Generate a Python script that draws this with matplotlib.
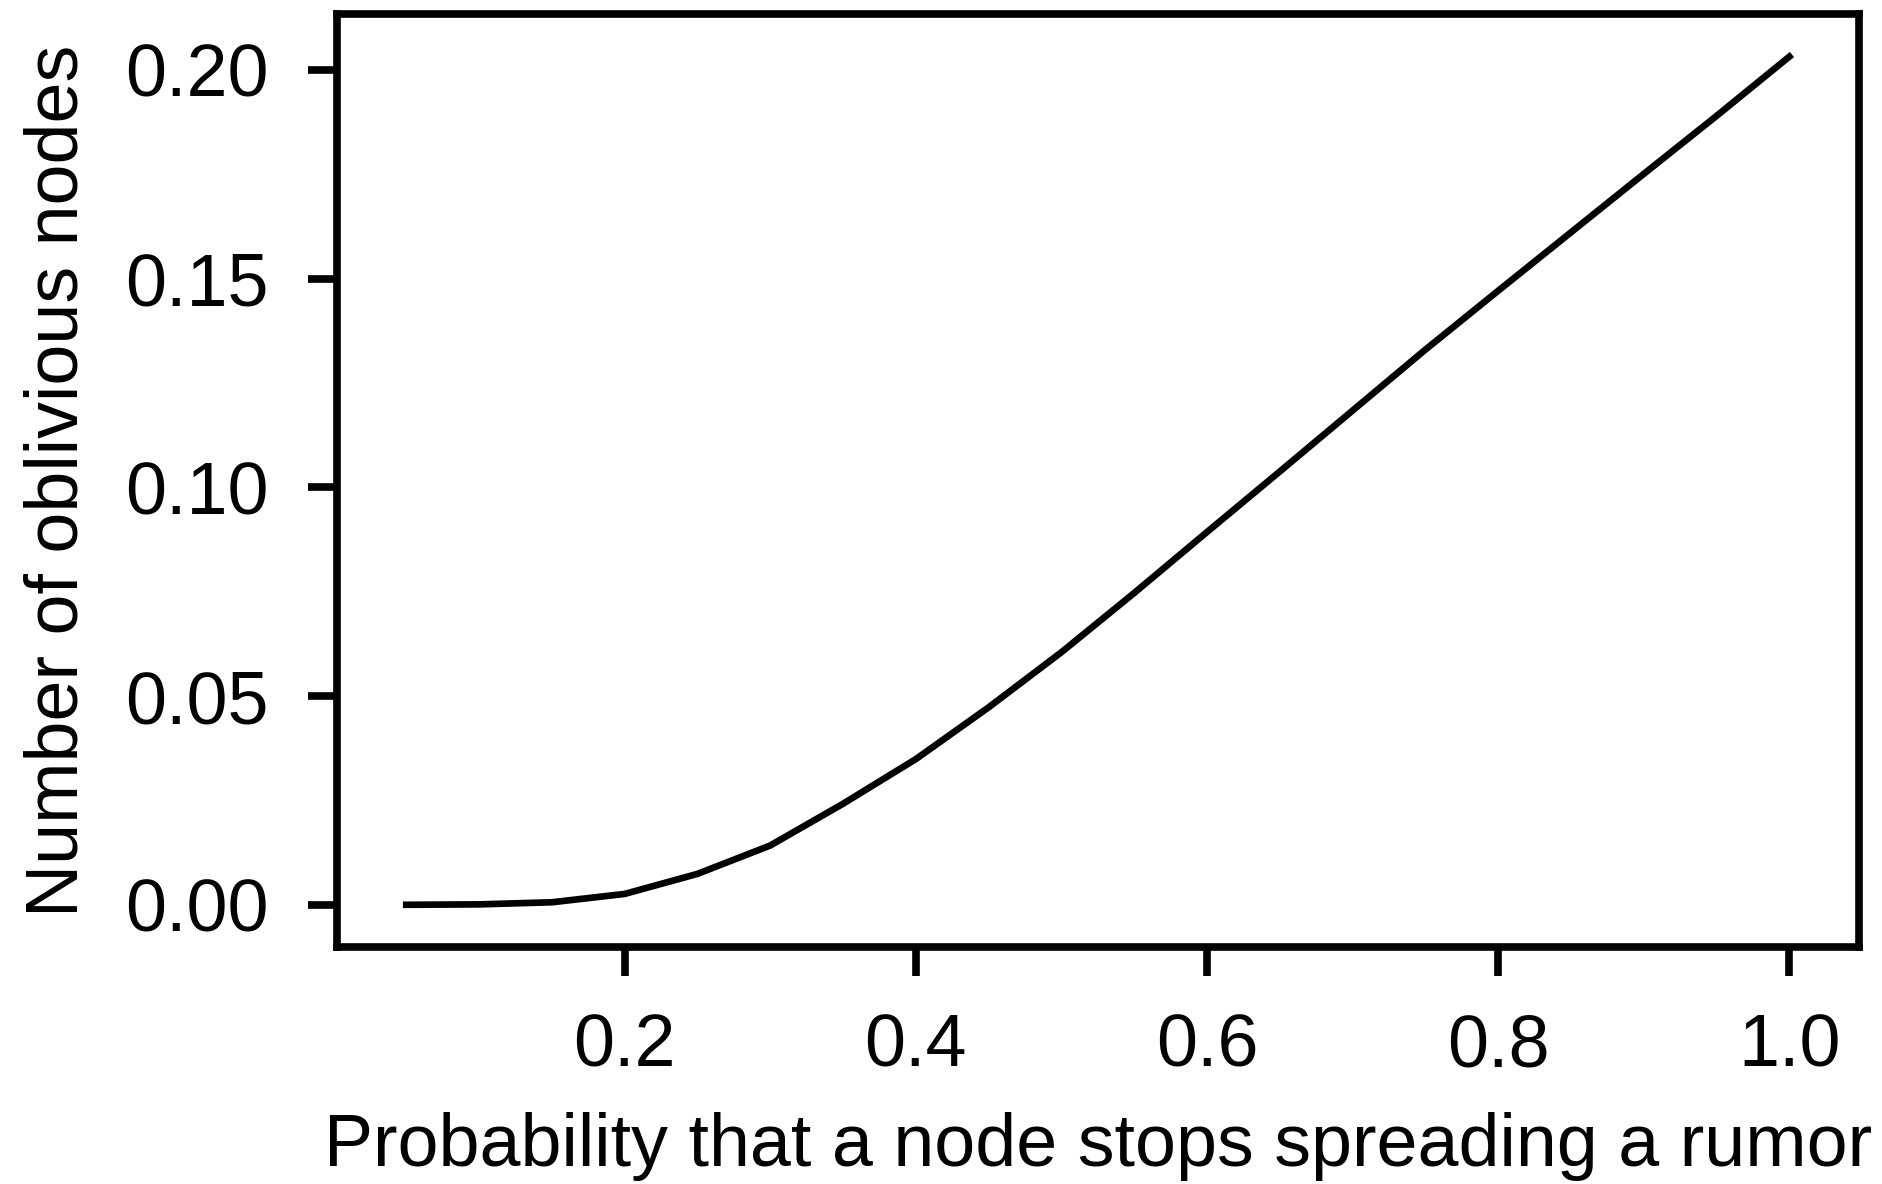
#! /usr/bin/env python3

import numpy as np
from matplotlib import pyplot as plt

# probability that a node stops spreading, and resulting oblivious fraction
stop_prob = [0.05, 0.10, 0.15, 0.20, 0.25, 0.30, 0.35, 0.40, 0.45, 0.50,
             0.55, 0.60, 0.65, 0.70, 0.75, 0.80, 0.85, 0.90, 0.95, 1.00]
oblivious = [0.0000, 0.0001, 0.0006, 0.0026, 0.0074, 0.0142, 0.0242, 0.0349,
             0.0473, 0.0605, 0.0747, 0.0893, 0.1038, 0.1184, 0.1330, 0.1471,
             0.1611, 0.1751, 0.1890, 0.2032]

xticks = [0.2, 0.4, 0.6, 0.8, 1.0]
yticks = [0.00, 0.05, 0.10, 0.15, 0.20]

def main():

    plt.rcParams["font.family"] = ["Liberation Sans", "DejaVu Sans"]

    fig = plt.figure(figsize = (18.83, 11.84), dpi = 100)
    ax = fig.add_axes([0.179, 0.200, 0.808, 0.788])

    ax.plot(np.array(stop_prob), np.array(oblivious), color = "black", lw = 4.8)

    ax.set_xticks(xticks)
    ax.set_xticklabels(["%.1f" % t for t in xticks])
    ax.set_yticks(yticks)
    ax.set_yticklabels(["%.2f" % t for t in yticks])

    for s in ax.spines.values():
        s.set_linewidth(5.5)
    ax.tick_params(axis = "both", labelsize = 53, length = 21, width = 5.5)
    ax.tick_params(axis = "x", pad = 26)
    ax.tick_params(axis = "y", pad = 28)

    ax.set_xlabel("Probability that a node stops spreading a rumor", fontsize = 53, labelpad = 22)
    ax.set_ylabel("Number of oblivious nodes", fontsize = 53, labelpad = 24)

    fig.savefig("out.png", dpi = 100)

if __name__ == "__main__":
    main()
